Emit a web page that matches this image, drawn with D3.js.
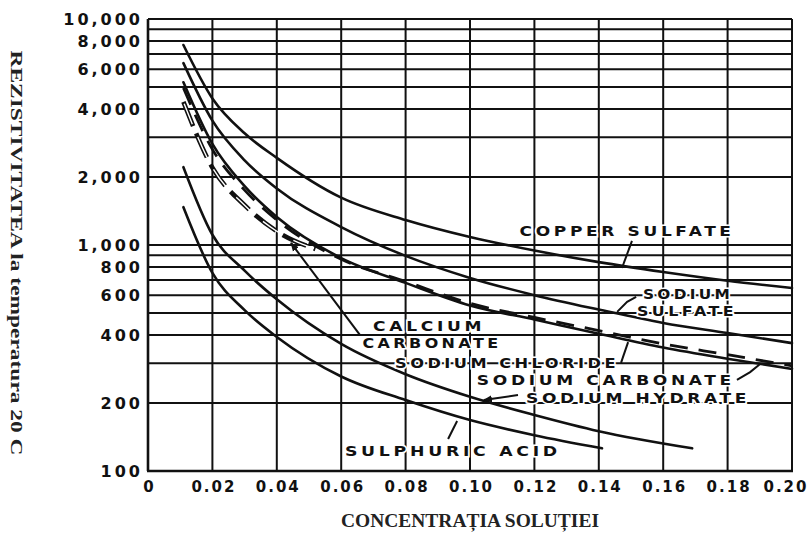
<!DOCTYPE html>
<html><head><meta charset="utf-8">
<script src="https://cdn.jsdelivr.net/npm/d3@7"></script>
<style>body{margin:0;background:#fff}svg{display:block}</style>
</head><body><svg id="c" width="812" height="538"></svg>
<script>
// ---- data ----
const concentration = [0.011, 0.02, 0.03, 0.04, 0.06, 0.08, 0.10, 0.12, 0.14, 0.16, 0.18, 0.20];
const copperSulfate   = [7670, 4450, 3120, 2430, 1620, 1290, 1085, 945, 840, 760, 695, 645];
const sodiumSulfate   = [6380, 3550, 2370, 1780, 1200, 895, 715, 600, 518, 452, 408, 368];
const sodiumChloride  = [5250, 2800, 1820, 1330, 875, 680, 540, 468, 405, 352, 314, 283];
const sodiumCarbonate = [4950, 2650, 1750, 1290, 865, 690, 552, 478, 418, 365, 327, 292];
const calciumCarbonateConc = [0.011, 0.02, 0.03, 0.04, 0.052];
const calciumCarbonate     = [4300, 2200, 1500, 1150, 960];
const sodiumHydrateConc = [0.011, 0.02, 0.03, 0.04, 0.06, 0.08, 0.10, 0.12, 0.14, 0.169];
const sodiumHydrate     = [2210, 1110, 770, 575, 365, 268, 213, 177, 150, 126];
const sulphuricAcidConc = [0.011, 0.02, 0.03, 0.04, 0.06, 0.08, 0.10, 0.12, 0.141];
const sulphuricAcid     = [1470, 752, 515, 392, 262, 206, 168, 144, 126];

const xTicks = [0, 0.02, 0.04, 0.06, 0.08, 0.10, 0.12, 0.14, 0.16, 0.18, 0.20];
const yTicks = [100, 200, 400, 600, 800, 1000, 2000, 4000, 6000, 8000, 10000];
const yGrid = [100,200,300,400,500,600,700,800,900,1000,2000,3000,4000,5000,6000,7000,8000,9000,10000];

const xTitle = "CONCENTRAȚIA SOLUȚIEI";
const yTitle = "REZISTIVITATEA la temperatura 20 C";

// labels with anchor points in data space [conc, value]
const labels = [
  {lines:[{t:"COPPER  SULFATE", at:[0.1488,1153], w:215}], leader:[[0.1472,791],[0.1503,1042]]},
  {lines:[{t:"SODIUM", at:[0.1677,607], w:90},{t:"SULFATE", at:[0.1674,511], w:100}], leader:[[0.1457,506],[0.1488,560],[0.1516,589]]},
  {lines:[{t:"CALCIUM", at:[0.0873,438], w:112},{t:"CARBONATE", at:[0.0882,368], w:139}], leader:[[0.0658,400],[0.0444,1021]], arrow:true},
  {lines:[{t:"SODIUM  CHLORIDE", at:[0.1115,301], w:224}], leader:[[0.1469,301],[0.1491,372]]},
  {lines:[{t:"SODIUM  CARBONATE", at:[0.1422,253], w:258}], leader:[[0.1829,253],[0.187,274],[0.190,297]]},
  {lines:[{t:"SODIUM  HYDRATE", at:[0.1522,210], w:224}], leader:[[0.1149,217],[0.1043,206]], arrow:true},
  {lines:[{t:"SULPHURIC  ACID", at:[0.0947,123], w:216}], leader:[[0.0932,138.6],[0.096,166.4]]}
];

const svg = d3.select('#c');
const x = d3.scaleLinear().domain([0, 0.2]).range([148, 792]);
const y = d3.scaleLog().domain([100, 10000]).range([471, 19]);
const ink = "#111";

svg.append('rect').attr('width',812).attr('height',538).attr('fill','#fff');

// grid
const grid = svg.append('g').attr('stroke', ink).attr('stroke-width', 2);
grid.selectAll('line.h').data(yGrid).join('line').attr('class','h')
  .attr('x1', x(0)).attr('x2', x(0.2)).attr('y1', d=>y(d)).attr('y2', d=>y(d));
grid.selectAll('line.v').data(xTicks).join('line').attr('class','v')
  .attr('x1', d=>x(d)).attr('x2', d=>x(d)).attr('y1', y(100)).attr('y2', y(10000))
  .attr('stroke-width', d => (d===0) ? 2.6 : 2);
grid.append('line').attr('x1', x(0)-1).attr('x2', x(0.2)+1).attr('y1', y(100)).attr('y2', y(100)).attr('stroke-width', 2.6);

// axes (labels only)
const tickFont = "'DejaVu Sans', sans-serif";
const yAxis = svg.append('g').attr('transform', `translate(${x(0)},0)`)
  .call(d3.axisLeft(y).tickValues(yTicks).tickFormat(d3.format(',')).tickSize(0).tickPadding(5));
yAxis.select('.domain').remove();
yAxis.selectAll('text').attr('font-family', tickFont).attr('font-weight','bold').attr('font-size', 16)
  .attr('letter-spacing', 3).attr('fill', ink).attr('dy','0.36em');

const xAxis = svg.append('g').attr('transform', `translate(0,${y(100)})`)
  .call(d3.axisBottom(x).tickValues(xTicks).tickFormat(d => d === 0 ? '0' : d3.format('.2f')(d)).tickSize(0).tickPadding(10));
xAxis.select('.domain').remove();
xAxis.selectAll('text').attr('font-family', tickFont).attr('font-weight','bold').attr('font-size', 15)
  .attr('letter-spacing', 2).attr('fill', ink).attr('dx', 1);
// keep the last label inside the picture
xAxis.selectAll('.tick').filter(d => d === 0.2).select('text').attr('text-anchor','end').attr('dx', 16);

// curves
const line = d3.line().x(d=>x(d[0])).y(d=>y(d[1])).curve(d3.curveMonotoneX);
const zip = (xs, ys) => xs.map((v,i)=>[v, ys[i]]);
const curves = svg.append('g').attr('fill','none').attr('stroke', ink).attr('stroke-linecap','round');
curves.append('path').attr('d', line(zip(concentration, copperSulfate))).attr('stroke-width', 2.6);
curves.append('path').attr('d', line(zip(concentration, sodiumSulfate))).attr('stroke-width', 2.6);
curves.append('path').attr('d', line(zip(concentration, sodiumChloride))).attr('stroke-width', 2.6);
curves.append('path').attr('d', line(zip(concentration, sodiumCarbonate))).attr('stroke-width', 2.8)
  .attr('stroke-dasharray', '18 11').attr('stroke-linecap','butt');
curves.append('path').attr('d', line(zip(calciumCarbonateConc, calciumCarbonate))).attr('stroke-width', 4.6)
  .attr('stroke-dasharray', '26 8').attr('stroke-linecap','butt');
curves.append('path').attr('d', line(zip(calciumCarbonateConc, calciumCarbonate))).attr('stroke-width', 1.4)
  .attr('stroke', '#fff').attr('stroke-dasharray', '0 2 22 12').attr('stroke-linecap','butt');
curves.append('path').attr('d', line(zip(sodiumHydrateConc, sodiumHydrate))).attr('stroke-width', 2.6);
curves.append('path').attr('d', line(zip(sulphuricAcidConc, sulphuricAcid))).attr('stroke-width', 2.6);

// arrow marker
svg.append('defs').append('marker').attr('id','arr').attr('viewBox','0 0 10 10')
  .attr('refX', 9).attr('refY', 5).attr('markerWidth', 9).attr('markerHeight', 9)
  .attr('markerUnits','userSpaceOnUse').attr('orient','auto')
  .append('path').attr('d','M0,1 L10,5 L0,9 Z').attr('fill', ink);

// labels + leaders
const lab = svg.append('g');
const leaderLine = d3.line().x(d=>x(d[0])).y(d=>y(d[1]));
labels.forEach(L => {
  lab.append('path').attr('d', leaderLine(L.leader)).attr('fill','none').attr('stroke', ink).attr('stroke-width', 2)
    .attr('marker-end', L.arrow ? 'url(#arr)' : null);
  L.lines.forEach(s => {
    lab.append('text').attr('x', x(s.at[0])).attr('y', y(s.at[1])).attr('dy','0.36em')
      .attr('text-anchor','middle').attr('font-family', tickFont).attr('font-weight','bold').attr('font-size', 14)
      .attr('letter-spacing', 3)
      .attr('fill', ink).attr('stroke', '#fff').attr('stroke-width', 3).attr('paint-order', 'stroke')
      .attr('textLength', s.w).attr('lengthAdjust','spacingAndGlyphs').text(s.t);
  });
});

// axis titles
svg.append('text').attr('x', 470).attr('y', 527).attr('text-anchor','middle')
  .attr('font-family', "'Liberation Serif', 'Times New Roman', serif").attr('font-weight','bold').attr('font-size', 19)
  .attr('fill', '#222').attr('textLength', 258).attr('lengthAdjust','spacingAndGlyphs').text(xTitle);
svg.append('text').attr('transform', 'translate(17,253) rotate(90)').attr('text-anchor','middle').attr('dy','0.35em')
  .attr('font-family', "'Liberation Serif', 'Times New Roman', serif").attr('font-weight','bold').attr('font-size', 17)
  .attr('fill', '#222').attr('textLength', 405).attr('lengthAdjust','spacingAndGlyphs').text(yTitle);
</script></body></html>
